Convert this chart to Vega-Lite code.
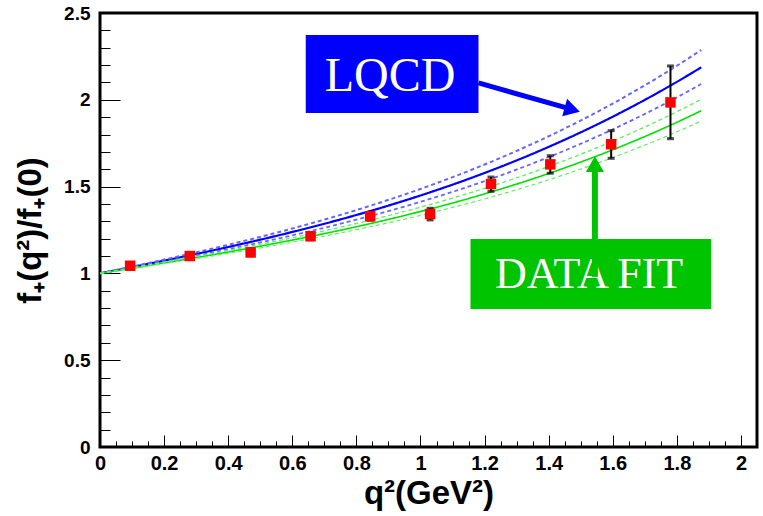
{
  "$schema": "https://vega.github.io/schema/vega-lite/v6.json",
  "width": 657,
  "height": 434,
  "autosize": {"type": "none"},
  "padding": {"left": 100, "top": 13, "right": 6, "bottom": 69},
  "background": "white",
  "config": {
    "view": {"stroke": "#000", "strokeWidth": 3},
    "axis": {"domain": false, "grid": false, "labelFont": "Liberation Sans", "labelFontWeight": "bold", "titleFont": "Liberation Sans", "titleFontWeight": "bold", "labelColor": "#000", "titleColor": "#000", "tickColor": "#000", "tickWidth": 1, "labelOverlap": false, "labelBound": false, "labelFlush": false}
  },
  "resolve": {"scale": {"x": "shared", "y": "shared"}, "axis": {"x": "independent", "y": "independent"}},
  "datasets": {
    "curves": [
      {"q2": 0, "f": 1, "s": "LQCD"}, {"q2": 0.2, "f": 1.0734, "s": "LQCD"}, {"q2": 0.4, "f": 1.152, "s": "LQCD"}, {"q2": 0.6, "f": 1.2386, "s": "LQCD"}, {"q2": 0.8, "f": 1.3365, "s": "LQCD"}, {"q2": 1.0, "f": 1.4488, "s": "LQCD"}, {"q2": 1.2, "f": 1.5785, "s": "LQCD"}, {"q2": 1.4, "f": 1.7288, "s": "LQCD"}, {"q2": 1.6, "f": 1.9027, "s": "LQCD"}, {"q2": 1.8, "f": 2.1033, "s": "LQCD"}, {"q2": 1.876, "f": 2.187, "s": "LQCD"},
      {"q2": 0, "f": 1, "s": "LQCD+"}, {"q2": 0.2, "f": 1.0796, "s": "LQCD+"}, {"q2": 0.4, "f": 1.1648, "s": "LQCD+"}, {"q2": 0.6, "f": 1.2586, "s": "LQCD+"}, {"q2": 0.8, "f": 1.3648, "s": "LQCD+"}, {"q2": 1.0, "f": 1.4865, "s": "LQCD+"}, {"q2": 1.2, "f": 1.6271, "s": "LQCD+"}, {"q2": 1.4, "f": 1.79, "s": "LQCD+"}, {"q2": 1.6, "f": 1.9785, "s": "LQCD+"}, {"q2": 1.8, "f": 2.196, "s": "LQCD+"}, {"q2": 1.876, "f": 2.287, "s": "LQCD+"},
      {"q2": 0, "f": 1, "s": "LQCD-"}, {"q2": 0.2, "f": 1.0675, "s": "LQCD-"}, {"q2": 0.4, "f": 1.1397, "s": "LQCD-"}, {"q2": 0.6, "f": 1.2193, "s": "LQCD-"}, {"q2": 0.8, "f": 1.3092, "s": "LQCD-"}, {"q2": 1.0, "f": 1.4124, "s": "LQCD-"}, {"q2": 1.2, "f": 1.5316, "s": "LQCD-"}, {"q2": 1.4, "f": 1.6698, "s": "LQCD-"}, {"q2": 1.6, "f": 1.8296, "s": "LQCD-"}, {"q2": 1.8, "f": 2.0139, "s": "LQCD-"}, {"q2": 1.876, "f": 2.091, "s": "LQCD-"},
      {"q2": 0, "f": 1, "s": "FIT"}, {"q2": 0.2, "f": 1.0603, "s": "FIT"}, {"q2": 0.4, "f": 1.1233, "s": "FIT"}, {"q2": 0.6, "f": 1.192, "s": "FIT"}, {"q2": 0.8, "f": 1.2688, "s": "FIT"}, {"q2": 1.0, "f": 1.3566, "s": "FIT"}, {"q2": 1.2, "f": 1.458, "s": "FIT"}, {"q2": 1.4, "f": 1.5756, "s": "FIT"}, {"q2": 1.6, "f": 1.7122, "s": "FIT"}, {"q2": 1.8, "f": 1.8704, "s": "FIT"}, {"q2": 1.876, "f": 1.937, "s": "FIT"},
      {"q2": 0, "f": 1, "s": "FIT+"}, {"q2": 0.2, "f": 1.0645, "s": "FIT+"}, {"q2": 0.4, "f": 1.1319, "s": "FIT+"}, {"q2": 0.6, "f": 1.2054, "s": "FIT+"}, {"q2": 0.8, "f": 1.2876, "s": "FIT+"}, {"q2": 1.0, "f": 1.3816, "s": "FIT+"}, {"q2": 1.2, "f": 1.4901, "s": "FIT+"}, {"q2": 1.4, "f": 1.6159, "s": "FIT+"}, {"q2": 1.6, "f": 1.7621, "s": "FIT+"}, {"q2": 1.8, "f": 1.9313, "s": "FIT+"}, {"q2": 1.876, "f": 2.003, "s": "FIT+"},
      {"q2": 0, "f": 1, "s": "FIT-"}, {"q2": 0.2, "f": 1.0565, "s": "FIT-"}, {"q2": 0.4, "f": 1.1155, "s": "FIT-"}, {"q2": 0.6, "f": 1.1799, "s": "FIT-"}, {"q2": 0.8, "f": 1.2519, "s": "FIT-"}, {"q2": 1.0, "f": 1.3341, "s": "FIT-"}, {"q2": 1.2, "f": 1.4291, "s": "FIT-"}, {"q2": 1.4, "f": 1.5393, "s": "FIT-"}, {"q2": 1.6, "f": 1.6673, "s": "FIT-"}, {"q2": 1.8, "f": 1.8156, "s": "FIT-"}, {"q2": 1.876, "f": 1.878, "s": "FIT-"}
    ],
    "pts": [
      {"q2": 0.094, "f": 1.044, "lo": 1.026, "hi": 1.062},
      {"q2": 0.28, "f": 1.1, "lo": 1.082, "hi": 1.118},
      {"q2": 0.47, "f": 1.121, "lo": 1.101, "hi": 1.141},
      {"q2": 0.657, "f": 1.214, "lo": 1.194, "hi": 1.234},
      {"q2": 0.843, "f": 1.329, "lo": 1.306, "hi": 1.352},
      {"q2": 1.03, "f": 1.342, "lo": 1.308, "hi": 1.375},
      {"q2": 1.22, "f": 1.515, "lo": 1.473, "hi": 1.555},
      {"q2": 1.405, "f": 1.628, "lo": 1.577, "hi": 1.678},
      {"q2": 1.595, "f": 1.744, "lo": 1.663, "hi": 1.822},
      {"q2": 1.78, "f": 1.985, "lo": 1.776, "hi": 2.195}
    ]
  },
  "layer": [
    {
      "data": {"name": "curves"},
      "mark": {"type": "line", "interpolate": "monotone", "clip": true},
      "encoding": {
        "x": {
          "field": "q2", "type": "quantitative",
          "scale": {"domain": [0, 2.05], "nice": false, "zero": false},
          "axis": {
            "orient": "bottom",
            "offset": -12,
            "values": [0, 0.2, 0.4, 0.6, 0.8, 1, 1.2, 1.4, 1.6, 1.8, 2],
            "format": ".1~f",
            "tickSize": 12,
            "labelPadding": 6,
            "labelFontSize": 20,
            "labelOverlap": false,
            "title": "q²(GeV²)",
            "titleFontSize": 33,
            "titleX": 328.5,
            "titleY": 68,
            "titleAlign": "center",
            "titleBaseline": "alphabetic"
          }
        },
        "y": {
          "field": "f", "type": "quantitative",
          "scale": {"domain": [0, 2.5], "nice": false, "zero": false},
          "axis": {
            "orient": "left",
            "offset": -20,
            "values": [0, 0.5, 1, 1.5, 2, 2.5],
            "format": ".1~f",
            "tickSize": 20,
            "labelPadding": 10,
            "labelFontSize": 19,
            "labelOverlap": false,
            "title": "f₊(q²)/f₊(0)",
            "titleFontSize": 33,
            "titleAngle": 270,
            "titleX": -80,
            "titleY": 217,
            "titleAlign": "center",
            "titleBaseline": "alphabetic"
          }
        },
        "detail": {"field": "s"},
        "color": {"field": "s", "type": "nominal", "legend": null,
          "scale": {"domain": ["LQCD", "LQCD+", "LQCD-", "FIT", "FIT+", "FIT-"], "range": ["#0000ff", "#6666ff", "#6666ff", "#00e000", "#66ee66", "#66ee66"]}},
        "strokeDash": {"field": "s", "type": "nominal", "legend": null,
          "scale": {"domain": ["LQCD", "LQCD+", "LQCD-", "FIT", "FIT+", "FIT-"], "range": [[1, 0], [4, 3], [4, 3], [1, 0], [4, 3], [4, 3]]}},
        "strokeWidth": {"field": "s", "type": "nominal", "legend": null,
          "scale": {"domain": ["LQCD", "LQCD+", "LQCD-", "FIT", "FIT+", "FIT-"], "range": [2.2, 1.2, 1.2, 2.2, 1.2, 1.2]}}
      }
    },
    {
      "data": {"name": "pts"},
      "mark": {"type": "rule", "color": "#000", "strokeWidth": 2},
      "encoding": {
        "x": {"field": "q2", "type": "quantitative",
          "axis": {"orient": "bottom", "offset": -6, "values": [0.05,0.1,0.15,0.25,0.3,0.35,0.45,0.5,0.55,0.65,0.7,0.75,0.85,0.9,0.95,1.05,1.1,1.15,1.25,1.3,1.35,1.45,1.5,1.55,1.65,1.7,1.75,1.85,1.9,1.95], "labels": false, "title": null, "tickSize": 6}},
        "y": {"field": "lo", "type": "quantitative",
          "axis": {"orient": "left", "offset": -10, "values": [0.1,0.2,0.3,0.4,0.6,0.7,0.8,0.9,1.1,1.2,1.3,1.4,1.6,1.7,1.8,1.9,2.1,2.2,2.3,2.4], "labels": false, "title": null, "tickSize": 10}},
        "y2": {"field": "hi"}
      }
    },
    {
      "data": {"name": "pts"},
      "mark": {"type": "tick", "color": "#000", "orient": "horizontal", "size": 7, "thickness": 3},
      "encoding": {
        "x": {"field": "q2", "type": "quantitative", "axis": null},
        "y": {"field": "lo", "type": "quantitative", "axis": null}
      }
    },
    {
      "data": {"name": "pts"},
      "mark": {"type": "tick", "color": "#000", "orient": "horizontal", "size": 7, "thickness": 3},
      "encoding": {
        "x": {"field": "q2", "type": "quantitative", "axis": null},
        "y": {"field": "hi", "type": "quantitative", "axis": null}
      }
    },
    {
      "data": {"name": "pts"},
      "mark": {"type": "point", "shape": "square", "filled": true, "size": 110, "color": "#ff0000", "opacity": 1},
      "encoding": {
        "x": {"field": "q2", "type": "quantitative", "axis": null},
        "y": {"field": "f", "type": "quantitative", "axis": null}
      }
    },
    {
      "data": {"values": [{}]},
      "mark": {"type": "rect", "color": "#0000ff"},
      "encoding": {"x": {"datum": 0.642, "axis": null}, "x2": {"datum": 1.181}, "y": {"datum": 2.373, "axis": null}, "y2": {"datum": 1.924}}
    },
    {
      "data": {"values": [{}]},
      "mark": {"type": "text", "text": "LQCD", "font": "Liberation Serif", "fontSize": 48, "color": "#ffffff", "align": "center", "baseline": "alphabetic"},
      "encoding": {"x": {"datum": 0.905, "axis": null}, "y": {"datum": 2.052, "axis": null}}
    },
    {
      "data": {"values": [{}]},
      "mark": {"type": "rule", "color": "#0000ff", "strokeWidth": 5},
      "encoding": {"x": {"datum": 1.181, "axis": null}, "y": {"datum": 2.097, "axis": null}, "x2": {"datum": 1.47}, "y2": {"datum": 1.946}}
    },
    {
      "data": {"values": [{}]},
      "mark": {"type": "point", "shape": "triangle-right", "filled": true, "size": 330, "color": "#0000ff", "opacity": 1, "angle": 15.6},
      "encoding": {"x": {"datum": 1.4735, "axis": null}, "y": {"datum": 1.943, "axis": null}}
    },
    {
      "data": {"values": [{}]},
      "mark": {"type": "rect", "color": "#00c400"},
      "encoding": {"x": {"datum": 1.156, "axis": null}, "x2": {"datum": 1.907}, "y": {"datum": 1.198, "axis": null}, "y2": {"datum": 0.795}}
    },
    {
      "data": {"values": [{}]},
      "mark": {"type": "text", "text": "DATA FIT", "font": "Liberation Serif", "fontSize": 44, "color": "#ffffff", "align": "center", "baseline": "alphabetic"},
      "encoding": {"x": {"datum": 1.526, "axis": null}, "y": {"datum": 0.914, "axis": null}}
    },
    {
      "data": {"values": [{}]},
      "mark": {"type": "rule", "color": "#00c400", "strokeWidth": 6},
      "encoding": {"x": {"datum": 1.5442, "axis": null}, "y": {"datum": 0.98, "axis": null}, "y2": {"datum": 1.64}}
    },
    {
      "data": {"values": [{}]},
      "mark": {"type": "point", "shape": "triangle-up", "filled": true, "size": 330, "color": "#00c400", "opacity": 1},
      "encoding": {"x": {"datum": 1.5442, "axis": null}, "y": {"datum": 1.63, "axis": null}}
    }
  ]
}
